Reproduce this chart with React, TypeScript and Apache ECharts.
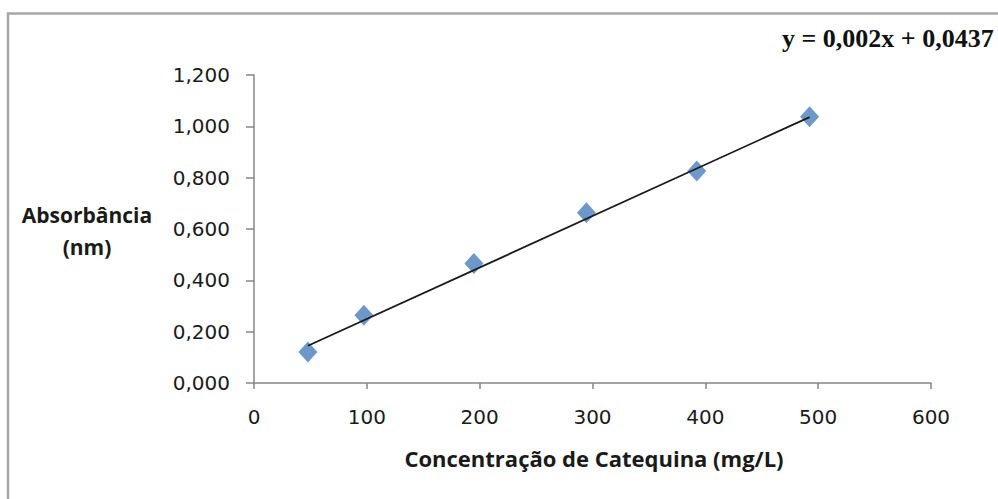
import React, { useEffect, useRef } from "react";
import * as echarts from "echarts";

// Data
const concentration = [47.8, 97.4, 194.9, 294.6, 392.4, 492.4];
const absorbance = [0.121, 0.264, 0.466, 0.663, 0.826, 1.037];
const trendX = [47.8, 492.4];
const trendY = [0.145, 1.036];
const xTicks = { min: 0, max: 600, interval: 100 };
const yTicks = { min: 0, max: 1.2, interval: 0.2 };
const equationText = "y = 0,002x + 0,0437";
const yTitle = ["Absorbância", "(nm)"];
const xTitle = "Concentração de Catequina (mg/L)";

export default function App() {
  const ref = useRef<HTMLDivElement>(null);
  useEffect(() => {
    if (!ref.current) return;
    const chart = echarts.init(ref.current, undefined, { renderer: "svg" });
    const axisColor = "#868686";
    const labelColor = "#1a1a1a";
    chart.setOption({
      animation: false,
      backgroundColor: "#ffffff",
      grid: { left: 254, right: 67, top: 75, bottom: 116, containLabel: false },
      xAxis: {
        type: "value",
        min: xTicks.min,
        max: xTicks.max,
        interval: xTicks.interval,
        splitLine: { show: false },
        axisLine: { show: true, onZero: false, lineStyle: { color: axisColor, width: 1.5 } },
        axisTick: { show: true, length: 6, lineStyle: { color: axisColor, width: 1.5 } },
        axisLabel: {
          margin: 24,
          color: labelColor,
          fontFamily: "DejaVu Sans",
          fontSize: 20,
        },
      },
      yAxis: {
        type: "value",
        min: yTicks.min,
        max: yTicks.max,
        interval: yTicks.interval,
        splitLine: { show: false },
        axisLine: { show: true, lineStyle: { color: axisColor, width: 1.5 } },
        axisTick: { show: true, length: 8, lineStyle: { color: axisColor, width: 1.5 } },
        axisLabel: {
          margin: 24,
          color: labelColor,
          fontFamily: "DejaVu Sans",
          fontSize: 20,
          formatter: (v: number) => v.toFixed(3).replace(".", ","),
        },
      },
      series: [
        {
          type: "line",
          data: trendX.map((x, i) => [x, trendY[i]]),
          showSymbol: false,
          symbol: "none",
          lineStyle: { color: "#1a1a1a", width: 1.8 },
          z: 3,
        },
        {
          type: "scatter",
          data: concentration.map((x, i) => [x, absorbance[i]]),
          symbol: "diamond",
          symbolSize: [19, 21],
          itemStyle: { color: "#4a7ebb" },
          z: 2,
        },
      ],
      graphic: [
        {
          type: "rect",
          shape: { x: 8, y: 13.5, width: 1100, height: 600 },
          style: { fill: "none", stroke: "#a6a6a6", lineWidth: 2.5 },
          silent: true,
        },
        {
          type: "text",
          x: 87,
          y: 215,
          style: {
            text: yTitle[0],
            fill: labelColor,
            font: "bold 21px 'Open Sans'",
            align: "center",
            verticalAlign: "middle",
          },
        },
        {
          type: "text",
          x: 87,
          y: 247,
          style: {
            text: yTitle[1],
            fill: labelColor,
            font: "bold 21px 'Open Sans'",
            align: "center",
            verticalAlign: "middle",
          },
        },
        {
          type: "text",
          x: 594,
          y: 458,
          style: {
            text: xTitle,
            fill: labelColor,
            font: "bold 22px 'Open Sans'",
            align: "center",
            verticalAlign: "middle",
          },
        },
        {
          type: "text",
          x: 782,
          y: 38,
          style: {
            text: equationText,
            fill: "#111111",
            font: "bold 26px 'Liberation Serif'",
            align: "left",
            verticalAlign: "middle",
          },
        },
      ],
    });
    return () => chart.dispose();
  }, []);
  return (
    <div
      ref={ref}
      style={{ position: "absolute", left: 0, top: 0, width: 998, height: 499 }}
    />
  );
}
